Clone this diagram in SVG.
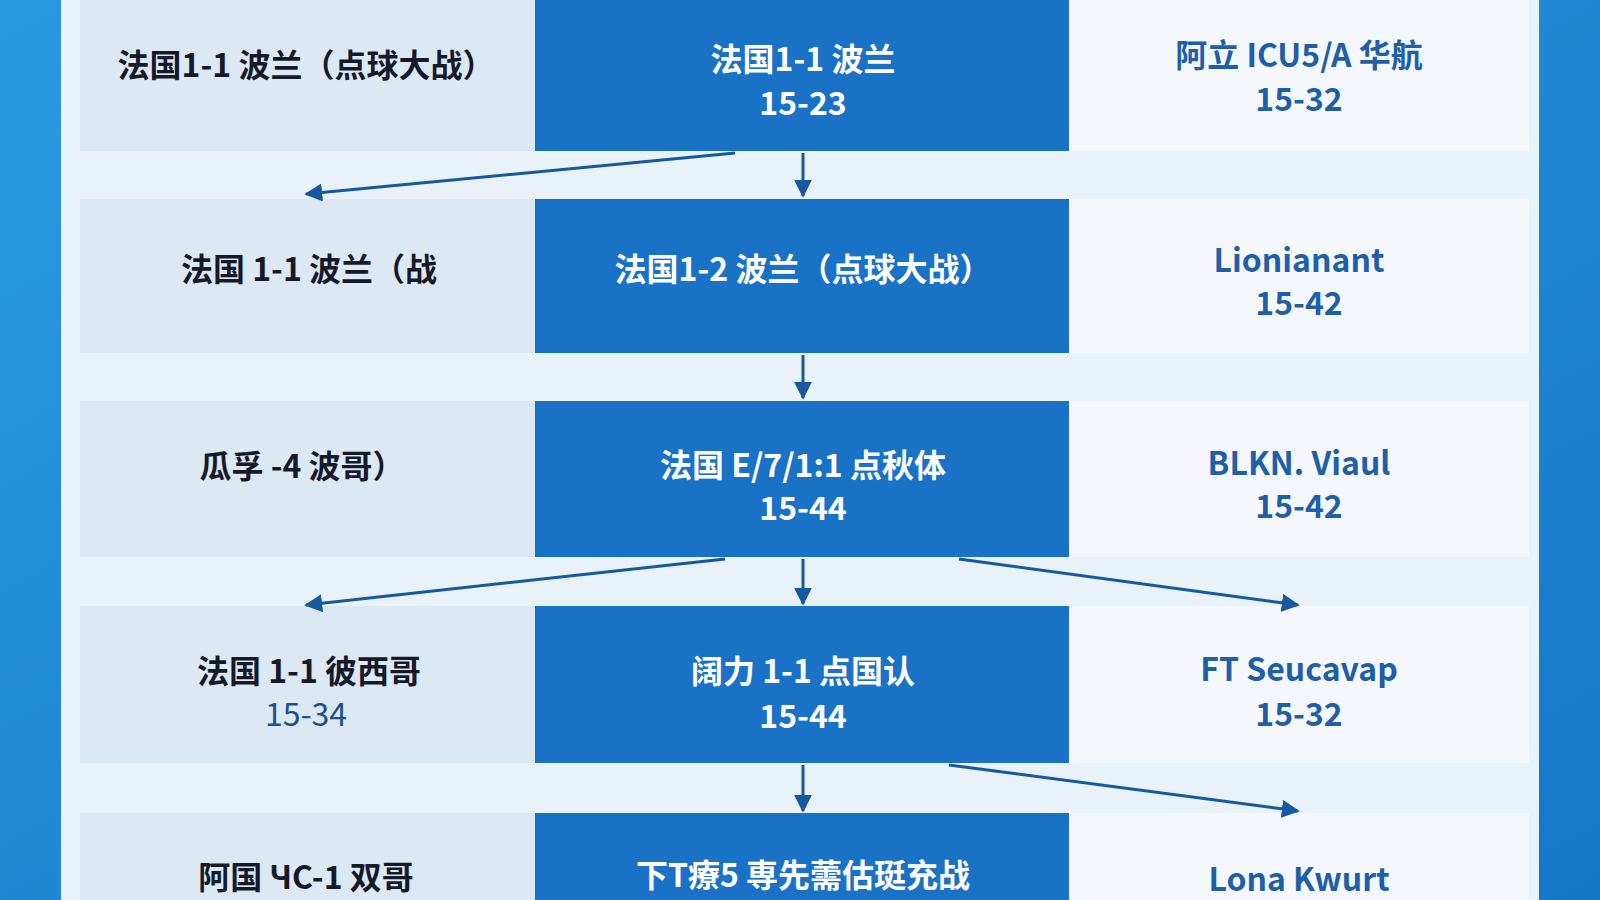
<svg xmlns="http://www.w3.org/2000/svg" width="1600" height="900" viewBox="0 0 1600 900">
<defs>
<linearGradient id="bg" x1="0" y1="0" x2="1" y2="1"><stop offset="0" stop-color="#2a9ae0"/><stop offset="1" stop-color="#1577c8"/></linearGradient>
<marker id="ah" viewBox="0 0 10 10" refX="9" refY="5" markerWidth="6" markerHeight="6" orient="auto"><path d="M0,0 L10,5 L0,10 z" fill="#1659a0"/></marker>
<style>
.l{fill:#dce8f3}.m{fill:#1a72c6}.r{fill:#f4f8fc}
text{font-family:"Noto Sans CJK SC","Noto Sans",sans-serif;font-weight:bold;font-size:32px;text-anchor:middle;dominant-baseline:middle}
.tl{fill:#15192a}.tn{fill:#1e4f8f;font-weight:normal}.tm{fill:#ffffff}.tr{fill:#1e5fa8}
.c{stroke:#1659a0;stroke-width:3;fill:none;marker-end:url(#ah)}
</style>
</defs>
<rect width="1600" height="900" fill="url(#bg)"/>
<rect x="61" y="0" width="1478" height="900" fill="#eaf2f9"/>
<g id="row1"><rect class="l" x="80" y="0" width="455" height="151"/><rect class="m" x="535" y="0" width="534" height="151"/><rect class="r" x="1069" y="0" width="460" height="151"/>
<text class="tl" x="306" y="68">法国1-1 波兰（点球大战）</text>
<text class="tm" x="803" y="62">法国1-1 波兰</text><text class="tm" x="803" y="106" font-weight="normal">15-23</text>
<text class="tr" x="1299" y="58">阿立 ICU5/A 华航</text><text class="tr" x="1299" y="102" font-weight="normal">15-32</text></g>
<g id="row2"><rect class="l" x="80" y="199" width="455" height="154"/><rect class="m" x="535" y="199" width="534" height="154"/><rect class="r" x="1069" y="199" width="460" height="154"/>
<text class="tl" x="309" y="272">法国 1-1 波兰（战</text>
<text class="tm" x="803" y="272">法国1-2 波兰（点球大战）</text>
<text class="tr" x="1299" y="263">Lionianant</text><text class="tr" x="1299" y="306" font-weight="normal">15-42</text></g>
<g id="row3"><rect class="l" x="80" y="401" width="455" height="156"/><rect class="m" x="535" y="401" width="534" height="156"/><rect class="r" x="1069" y="401" width="460" height="156"/>
<text class="tl" x="302" y="469">瓜孚 -4 波哥）</text>
<text class="tm" x="803" y="468">法国 E/7/1:1 点秋体</text><text class="tm" x="803" y="511" font-weight="normal">15-44</text>
<text class="tr" x="1299" y="466">BLKN. Viaul</text><text class="tr" x="1299" y="509" font-weight="normal">15-42</text></g>
<g id="row4"><rect class="l" x="80" y="606" width="455" height="157"/><rect class="m" x="535" y="606" width="534" height="157"/><rect class="r" x="1069" y="606" width="460" height="157"/>
<text class="tl" x="309" y="674">法国 1-1 彼西哥</text><text class="tn" x="306" y="717">15-34</text>
<text class="tm" x="803" y="674">阔力 1-1 点国认</text><text class="tm" x="803" y="719" font-weight="normal">15-44</text>
<text class="tr" x="1299" y="672">FT Seucavap</text><text class="tr" x="1299" y="717" font-weight="normal">15-32</text></g>
<g id="row5"><rect class="l" x="80" y="813" width="455" height="87"/><rect class="m" x="535" y="813" width="534" height="87"/><rect class="r" x="1069" y="813" width="460" height="87"/>
<text class="tl" x="306" y="880">阿国 ЧС-1 双哥</text>
<text class="tm" x="803" y="878">下T療5 専先薷估珽充战</text>
<text class="tr" x="1299" y="882">Lona Kwurt</text></g>
<g id="connectors">
<path class="c" d="M735,153 L306,194"/>
<path class="c" d="M803,153 L803,196"/>
<path class="c" d="M803,355 L803,398"/>
<path class="c" d="M725,559 L306,605"/>
<path class="c" d="M803,559 L803,604"/>
<path class="c" d="M959,559 L1298,605"/>
<path class="c" d="M803,765 L803,811"/>
<path class="c" d="M949,765 L1298,811"/>
</g>
</svg>
